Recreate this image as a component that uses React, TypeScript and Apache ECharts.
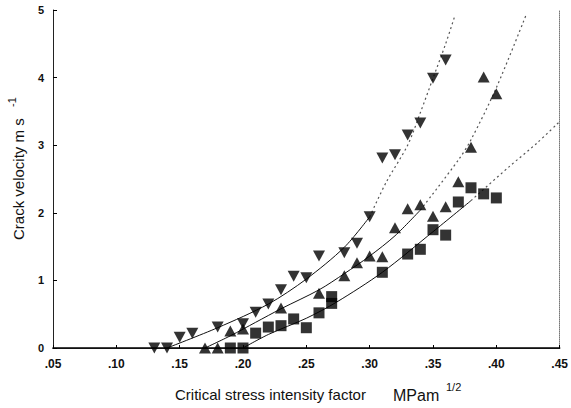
import React, { useEffect, useRef } from "react";
import * as echarts from "echarts";

// ▼ series
const downX = [0.13, 0.14, 0.15, 0.16, 0.18, 0.20, 0.21, 0.22, 0.23, 0.24, 0.25, 0.26, 0.28, 0.29, 0.30, 0.31, 0.32, 0.33, 0.34, 0.35, 0.36];
const downY = [0, 0, 0.16, 0.22, 0.31, 0.36, 0.53, 0.65, 0.86, 1.06, 1.04, 1.36, 1.41, 1.55, 1.94, 2.81, 2.86, 3.15, 3.33, 3.99, 4.26];
// ▲ series
const upX = [0.17, 0.18, 0.19, 0.20, 0.23, 0.26, 0.28, 0.29, 0.30, 0.31, 0.32, 0.33, 0.34, 0.35, 0.36, 0.37, 0.38, 0.39, 0.40];
const upY = [0, 0, 0.25, 0.28, 0.59, 0.81, 1.07, 1.26, 1.36, 1.35, 1.78, 2.06, 2.12, 1.95, 2.09, 2.46, 2.97, 4.01, 3.76];
// ■ series
const sqX = [0.19, 0.20, 0.21, 0.22, 0.23, 0.24, 0.25, 0.26, 0.27, 0.27, 0.31, 0.33, 0.34, 0.35, 0.36, 0.37, 0.38, 0.39, 0.40];
const sqY = [0, 0, 0.22, 0.31, 0.33, 0.43, 0.30, 0.52, 0.66, 0.76, 1.12, 1.39, 1.46, 1.75, 1.67, 2.16, 2.37, 2.28, 2.22];

// fitted curves (solid part, dotted part)
const downFitX = [0.14, 0.18, 0.22, 0.25, 0.28, 0.30];
const downFitY = [0, 0.3, 0.65, 1.02, 1.49, 1.94];
const downFitDotX = [0.30, 0.313, 0.33, 0.34, 0.35, 0.36, 0.367];
const downFitDotY = [1.94, 2.45, 3.0, 3.48, 3.99, 4.5, 4.9];

const upFitX = [0.17, 0.19, 0.21, 0.23, 0.26, 0.28, 0.30, 0.32, 0.34];
const upFitY = [0, 0.18, 0.38, 0.58, 0.86, 1.1, 1.36, 1.66, 2.04];
const upFitDotX = [0.34, 0.37, 0.38, 0.40, 0.424];
const upFitDotY = [2.04, 2.78, 3.08, 3.85, 4.95];

const sqFitX = [0.20, 0.22, 0.25, 0.274, 0.31, 0.35, 0.38];
const sqFitY = [0, 0.2, 0.44, 0.68, 1.12, 1.72, 2.18];
const sqFitDotX = [0.38, 0.41, 0.432, 0.45];
const sqFitDotY = [2.18, 2.68, 3.03, 3.35];

const xTicks = [0.05, 0.45, 0.05]; // min, max, interval
const yTicks = [0, 5, 1];

const FONT = '"Liberation Sans", Arial, Helvetica, sans-serif';

const zip = (xs: number[], ys: number[]) => xs.map((x, i) => [x, ys[i]]);

export default function App() {
  const ref = useRef<HTMLDivElement>(null);
  useEffect(() => {
    if (!ref.current) return;
    const chart = echarts.init(ref.current, undefined, { renderer: "svg" });
    const fitLine = (data: number[][], dotted: boolean) => ({
      type: "line",
      data,
      smooth: 0.3,
      symbol: "none",
      silent: true,
      z: 1,
      lineStyle: { color: dotted ? "#555" : "#111", width: dotted ? 1.2 : 1, type: dotted ? [2, 3] : "solid" },
    });
    const scatter = (data: number[][], symbol: string, rotate: number, size: number[]) => ({
      type: "scatter",
      data,
      symbol,
      symbolRotate: rotate,
      symbolSize: size,
      z: 3,
      itemStyle: { color: "#000" },
    });
    chart.setOption({
      animation: false,
      backgroundColor: "#fff",
      grid: { left: 53, right: 6, top: 10, bottom: 60, show: false },
      xAxis: [
        {
          type: "value",
          min: xTicks[0],
          max: xTicks[1],
          interval: xTicks[2],
          axisLine: { show: true, lineStyle: { color: "#000", width: 1.5 } },
          axisTick: { show: true, inside: true, length: 3, lineStyle: { color: "#000" } },
          splitLine: { show: false },
          axisLabel: {
            margin: 10,
            fontSize: 12,
            fontWeight: "bold",
            color: "#111",
            fontFamily: FONT,
            formatter: (v: number) => v.toFixed(2).replace(/^0/, ""),
          },
        },
        {
          type: "value",
          position: "top",
          min: xTicks[0],
          max: xTicks[1],
          axisLine: { show: true, lineStyle: { color: "#111", width: 1 } },
          axisTick: { show: false },
          axisLabel: { show: false },
          splitLine: { show: false },
        },
      ],
      yAxis: [
        {
          type: "value",
          min: yTicks[0],
          max: yTicks[1],
          interval: yTicks[2],
          axisLine: { show: true, lineStyle: { color: "#222", width: 1 } },
          axisTick: { show: true, inside: true, length: 4, lineStyle: { color: "#000" } },
          splitLine: { show: false },
          axisLabel: { margin: 9, fontSize: 11, fontWeight: "bold", color: "#111", fontFamily: FONT },
        },
        {
          type: "value",
          position: "right",
          min: yTicks[0],
          max: yTicks[1],
          axisLine: { show: true, lineStyle: { color: "#777", width: 1, type: "dotted" } },
          axisTick: { show: false },
          axisLabel: { show: false },
          splitLine: { show: false },
        },
      ],
      graphic: [
        {
          type: "text",
          x: 175,
          y: 394,
          style: { text: "Critical stress intensity factor", fontSize: 15, fontFamily: FONT, fill: "#111", align: "left", verticalAlign: "middle" },
        },
        {
          type: "text",
          x: 393,
          y: 395,
          style: { text: "MPam", fontSize: 16, fontFamily: FONT, fill: "#111", align: "left", verticalAlign: "middle" },
        },
        {
          type: "text",
          x: 446,
          y: 387,
          style: { text: "1/2", fontSize: 11, fontFamily: FONT, fill: "#111", align: "left", verticalAlign: "middle" },
        },
        {
          type: "text",
          x: 18,
          y: 240,
          rotation: Math.PI / 2,
          style: { text: "Crack velocity m s", fontSize: 15, fontFamily: FONT, fill: "#111", align: "left", verticalAlign: "middle" },
        },
        {
          type: "text",
          x: 12,
          y: 107,
          rotation: Math.PI / 2,
          style: { text: "-1", fontSize: 11, fontFamily: FONT, fill: "#111", align: "left", verticalAlign: "middle" },
        },
      ],
      series: [
        fitLine(zip(downFitX, downFitY), false),
        fitLine(zip(downFitDotX, downFitDotY), true),
        fitLine(zip(upFitX, upFitY), false),
        fitLine(zip(upFitDotX, upFitDotY), true),
        fitLine(zip(sqFitX, sqFitY), false),
        fitLine(zip(sqFitDotX, sqFitDotY), true),
        scatter(zip(downX, downY), "triangle", 180, [12, 11]),
        scatter(zip(upX, upY), "triangle", 0, [12, 11]),
        scatter(zip(sqX, sqY), "rect", 0, [11, 11]),
      ],
    });
    return () => chart.dispose();
  }, []);
  return <div ref={ref} style={{ position: "fixed", left: 0, top: 0, width: 571, height: 408 }} />;
}
